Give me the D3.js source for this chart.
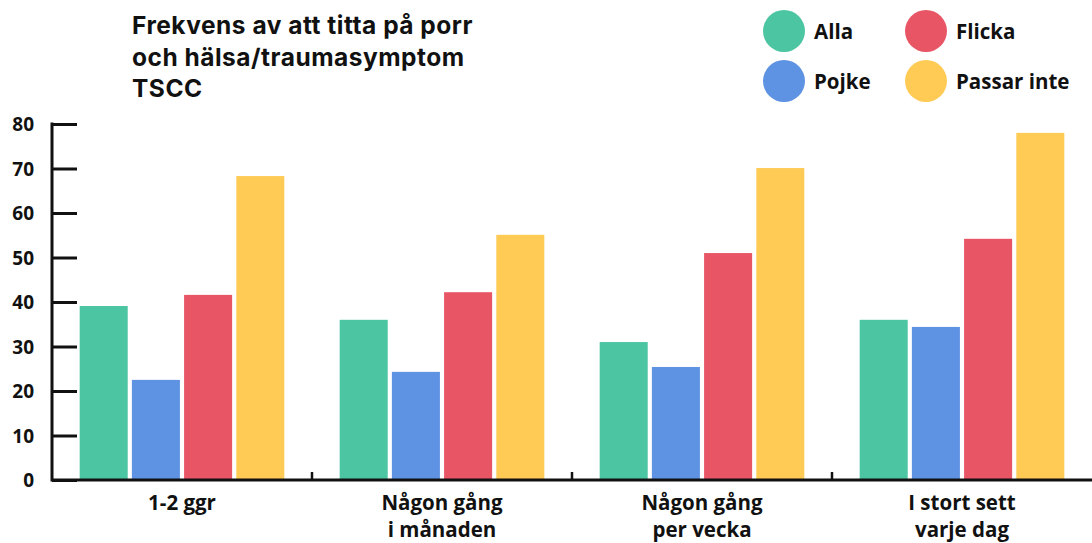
<!DOCTYPE html>
<html>
<head>
<meta charset="utf-8">
<script src="https://cdn.jsdelivr.net/npm/d3@7"></script>
<style>
  html, body { margin: 0; padding: 0; background: #fff; }
  svg { display: block; }
</style>
</head>
<body>
<svg id="chart" width="1092" height="543"></svg>
<script>
// Categories (frequency of viewing) and groups
const categories = [["1-2 ggr"], ["Någon gång", "i månaden"], ["Någon gång", "per vecka"], ["I stort sett", "varje dag"]];
const seriesNames = ["Alla", "Pojke", "Flicka", "Passar inte"];
const seriesColors = ["#4cc5a2", "#5e92e2", "#e85565", "#ffcb55"];

// TSCC values per group, one array per category
const valuesAlla = [39.1, 36.0, 31.0, 36.0];
const valuesPojke = [22.5, 24.3, 25.4, 34.4];
const valuesFlicka = [41.6, 42.2, 51.0, 54.2];
const valuesPassarInte = [68.3, 55.1, 70.1, 78.0];
const yTicks = [0, 10, 20, 30, 40, 50, 60, 70, 80];

const titleLines = ["Frekvens av att titta på porr", "och hälsa/traumasymptom", "TSCC"];

(function () {
  const series = [valuesAlla, valuesPojke, valuesFlicka, valuesPassarInte];
  const catKeys = categories.map(c => c.join(" "));

  const svg = d3.select("#chart");
  const plotLeft = 52, plotRight = 1092, plotTop = 124, plotBottom = 480;

  const x0 = d3.scaleBand().domain(catKeys).range([plotLeft, plotRight]).padding(0);
  const x1 = d3.scaleBand().domain(seriesNames).range([0, x0.bandwidth()])
    .paddingInner(0.08).paddingOuter(0.53);
  const y = d3.scaleLinear().domain([0, 80]).range([plotBottom, plotTop]);

  // Bars
  const groups = svg.append("g").selectAll("g")
    .data(catKeys)
    .join("g")
    .attr("transform", d => `translate(${x0(d)},0)`);

  groups.selectAll("rect")
    .data((d, i) => seriesNames.map((s, j) => ({ s, j, v: series[j][i] })))
    .join("rect")
    .attr("x", d => x1(d.s))
    .attr("width", x1.bandwidth())
    .attr("y", d => y(d.v))
    .attr("height", d => y(0) - y(d.v) + 1)
    .attr("fill", d => seriesColors[d.j]);

  // Y axis
  const yAxis = svg.append("g")
    .attr("transform", `translate(${plotLeft},0)`)
    .call(d3.axisRight(y).tickValues(yTicks).tickSize(25).tickFormat(""));
  yAxis.select(".domain").remove();
  yAxis.selectAll(".tick line").attr("stroke", "#111").attr("stroke-width", 3);
  svg.append("line")
    .attr("x1", plotLeft).attr("x2", plotLeft)
    .attr("y1", y(80) - 1.5).attr("y2", plotBottom + 1.5)
    .attr("stroke", "#111").attr("stroke-width", 3);

  svg.append("g").selectAll("text")
    .data(yTicks)
    .join("text")
    .attr("x", 34)
    .attr("y", d => y(d) + 7)
    .attr("text-anchor", "end")
    .attr("font-family", "'Open Sans', sans-serif")
    .attr("font-weight", 700)
    .attr("font-size", 19)
    .attr("fill", "#111")
    .text(d => d);

  // X axis
  svg.append("line")
    .attr("x1", plotLeft).attr("x2", plotRight)
    .attr("y1", plotBottom).attr("y2", plotBottom)
    .attr("stroke", "#111").attr("stroke-width", 3);

  svg.append("g").selectAll("line")
    .data(catKeys.slice(1))
    .join("line")
    .attr("x1", d => x0(d)).attr("x2", d => x0(d))
    .attr("y1", plotBottom - 8).attr("y2", plotBottom)
    .attr("stroke", "#111").attr("stroke-width", 2.5);

  const xLabels = svg.append("g").selectAll("text")
    .data(categories)
    .join("text")
    .attr("x", (d, i) => x0(catKeys[i]) + x0.bandwidth() / 2)
    .attr("y", 510)
    .attr("text-anchor", "middle")
    .attr("font-family", "'Open Sans', sans-serif")
    .attr("font-weight", 700)
    .attr("font-size", 20.5)
    .attr("letter-spacing", 0)
    .attr("fill", "#111");
  xLabels.selectAll("tspan")
    .data(d => d)
    .join("tspan")
    .attr("x", function () { return this.parentNode.getAttribute("x"); })
    .attr("dy", (d, i) => i === 0 ? 0 : 27)
    .text(d => d);

  // Title
  svg.append("text")
    .attr("x", 132)
    .attr("y", 34)
    .attr("font-family", "Inter, sans-serif")
    .attr("font-weight", 700)
    .attr("font-size", 24.5)
    .attr("letter-spacing", 0.5)
    .attr("fill", "#111")
    .selectAll("tspan")
    .data(titleLines)
    .join("tspan")
    .attr("x", 132)
    .attr("dy", (d, i) => i === 0 ? 0 : 31.7)
    .text(d => d);

  // Legend
  const legendPos = [[784, 31], [784, 81], [926, 31], [926, 81]];
  const legend = svg.append("g").selectAll("g")
    .data(seriesNames)
    .join("g")
    .attr("transform", (d, i) => `translate(${legendPos[i][0]},${legendPos[i][1]})`);
  legend.append("circle")
    .attr("r", 21)
    .attr("fill", (d, i) => seriesColors[i]);
  legend.append("text")
    .attr("x", 30)
    .attr("y", 8)
    .attr("font-family", "'Open Sans', sans-serif")
    .attr("font-weight", 700)
    .attr("font-size", 20.5)
    .attr("fill", "#111")
    .text(d => d);
})();
</script>
</body>
</html>
